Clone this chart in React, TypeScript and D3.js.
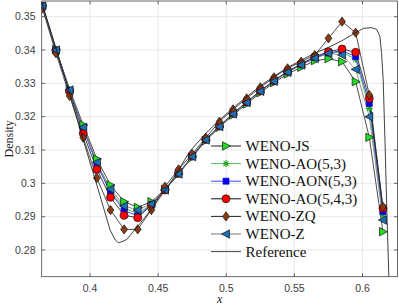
import React from "react";
import * as d3 from "d3";

const xs = [0.365, 0.375, 0.385, 0.395, 0.405, 0.415, 0.425, 0.435, 0.445, 0.455, 0.465, 0.475, 0.485, 0.495, 0.505, 0.515, 0.525, 0.535, 0.545, 0.555, 0.565, 0.575, 0.585, 0.595, 0.605, 0.615];

const wenoJS = [0.3533, 0.3402, 0.3282, 0.3175, 0.3073, 0.2995, 0.2945, 0.2928, 0.2945, 0.2982, 0.3028, 0.3078, 0.3128, 0.3168, 0.3205, 0.3238, 0.3272, 0.3302, 0.3328, 0.3348, 0.3368, 0.3374, 0.3365, 0.3305, 0.3138, 0.2855];
const wenoAO53 = [0.3532, 0.3400, 0.3279, 0.3166, 0.3060, 0.2976, 0.2925, 0.2910, 0.2936, 0.2980, 0.3029, 0.3080, 0.3130, 0.3170, 0.3208, 0.3242, 0.3276, 0.3306, 0.3334, 0.3356, 0.3377, 0.3390, 0.3394, 0.3372, 0.3225, 0.2905];
const wenoAON53 = [0.3532, 0.3400, 0.3279, 0.3163, 0.3056, 0.2972, 0.2918, 0.2903, 0.2935, 0.2980, 0.3029, 0.3081, 0.3131, 0.3171, 0.3209, 0.3243, 0.3277, 0.3307, 0.3335, 0.3357, 0.3378, 0.3391, 0.3398, 0.3380, 0.3240, 0.2915];
const wenoAO543 = [0.3531, 0.3398, 0.3276, 0.3150, 0.3042, 0.2958, 0.2904, 0.2897, 0.2935, 0.2980, 0.3030, 0.3082, 0.3132, 0.3172, 0.3210, 0.3244, 0.3278, 0.3308, 0.3336, 0.3358, 0.3380, 0.3395, 0.3403, 0.3393, 0.3255, 0.2925];
const wenoZQ = [0.3525, 0.3390, 0.3262, 0.3137, 0.3016, 0.2920, 0.2862, 0.2862, 0.2920, 0.2990, 0.3042, 0.3088, 0.3137, 0.3185, 0.3222, 0.3255, 0.3288, 0.3318, 0.3345, 0.3365, 0.3385, 0.3435, 0.3485, 0.3452, 0.3265, 0.2930];
const wenoZ = [0.3532, 0.3400, 0.3280, 0.3168, 0.3063, 0.2983, 0.2932, 0.2920, 0.2938, 0.2980, 0.3028, 0.3080, 0.3130, 0.3170, 0.3208, 0.3242, 0.3276, 0.3306, 0.3333, 0.3355, 0.3375, 0.3390, 0.3385, 0.3342, 0.3200, 0.2890];

const refX = [0.3645, 0.375, 0.385, 0.395, 0.405, 0.4147, 0.4185, 0.4208, 0.4235, 0.427, 0.4367, 0.4465, 0.4587, 0.465, 0.473, 0.485, 0.495, 0.505, 0.515, 0.525, 0.535, 0.545, 0.555, 0.565, 0.575, 0.585, 0.595, 0.6009, 0.6067, 0.6104, 0.6128, 0.614, 0.6152, 0.6167, 0.618, 0.6195];
const refV = [0.3545, 0.3405, 0.3270, 0.3130, 0.2995, 0.2860, 0.2830, 0.2822, 0.2825, 0.2832, 0.2880, 0.2930, 0.3000, 0.3040, 0.3095, 0.3150, 0.3190, 0.3226, 0.3260, 0.3292, 0.3321, 0.3347, 0.3370, 0.3390, 0.3408, 0.3428, 0.3452, 0.3465, 0.3467, 0.3462, 0.3440, 0.3390, 0.3310, 0.3100, 0.2900, 0.2700];

const xTicks = [0.4, 0.45, 0.5, 0.55, 0.6];
const yTicks = [0.28, 0.29, 0.3, 0.31, 0.32, 0.33, 0.34, 0.35];

type Marker = "tri-right" | "star" | "square" | "circle" | "diamond" | "tri-left" | "none";
interface Series { name: string; values: number[] | null; line: string; marker: Marker; fill: string; edge: string; }

const series: Series[] = [
  { name: "WENO-JS", values: wenoJS, line: "#222222", marker: "tri-right", fill: "#22dd22", edge: "#111111" },
  { name: "WENO-AO(5,3)", values: wenoAO53, line: "#55bb55", marker: "star", fill: "#22aa22", edge: "#22aa22" },
  { name: "WENO-AON(5,3)", values: wenoAON53, line: "#4444ff", marker: "square", fill: "#0000ee", edge: "#0000ee" },
  { name: "WENO-AO(5,4,3)", values: wenoAO543, line: "#111111", marker: "circle", fill: "#ff0000", edge: "#111111" },
  { name: "WENO-ZQ", values: wenoZQ, line: "#222222", marker: "diamond", fill: "#8b3a0f", edge: "#111111" },
  { name: "WENO-Z", values: wenoZ, line: "#777777", marker: "tri-left", fill: "#1a6fb5", edge: "#111111" },
  { name: "Reference", values: null, line: "#111111", marker: "none", fill: "none", edge: "none" },
];

const W = 399, H = 306;
const L = 41.7, R = 397.5, T = 1, B = 276.7;

function markerPath(m: Marker): string {
  switch (m) {
    case "tri-right": return "M-3.5,-4.2L4.5,0L-3.5,4.2Z";
    case "tri-left": return "M3.5,-4.2L-4.5,0L3.5,4.2Z";
    case "square": return "M-3,-3L3,-3L3,3L-3,3Z";
    case "diamond": return "M0,-4.6L3.4,0L0,4.6L-3.4,0Z";
    case "star": return "M-3.5,0L3.5,0M0,-3.5L0,3.5M-2.5,-2.5L2.5,2.5M-2.5,2.5L2.5,-2.5";
    default: return "";
  }
}

function MarkerShape({ s, x, y }: { s: Series; x: number; y: number }) {
  if (s.marker === "none") return null;
  if (s.marker === "circle") return <circle cx={x} cy={y} r={4} fill={s.fill} stroke={s.edge} strokeWidth={0.7} />;
  if (s.marker === "star") return <path d={markerPath("star")} transform={`translate(${x},${y})`} stroke={s.fill} strokeWidth={1.1} fill="none" />;
  return <path d={markerPath(s.marker)} transform={`translate(${x},${y})`} fill={s.fill} stroke={s.edge} strokeWidth={0.7} />;
}

export default function App() {
  const x = d3.scaleLinear().domain([0.3645, 0.6257]).range([L, R]);
  const y = d3.scaleLinear().domain([0.2720, 0.3547]).range([B, T]);
  const line = d3.line<[number, number]>().x(d => x(d[0])).y(d => y(d[1]));
  const refPts: [number, number][] = refX.map((v, i) => [v, refV[i]]);
  const legendY0 = 146, legendDy = 17.6;

  return (
    <svg width={W} height={H} style={{ position: "absolute", left: 0, top: 0, background: "#fff" }}>
      <defs>
        <clipPath id="plot"><rect x={L} y={T} width={R - L} height={B - T} /></clipPath>
      </defs>
      <rect x={0} y={0} width={W} height={H} fill="#fff" />
      {/* grid */}
      {xTicks.map(t => <line key={"gx" + t} x1={x(t)} x2={x(t)} y1={T} y2={B} stroke="#e3e3e3" strokeWidth={0.8} />)}
      {yTicks.map(t => <line key={"gy" + t} x1={L} x2={R} y1={y(t)} y2={y(t)} stroke="#e3e3e3" strokeWidth={0.8} />)}
      {/* series */}
      <g clipPath="url(#plot)">
        {series.filter(s => s.values).map(s => {
          const pts: [number, number][] = xs.map((v, i) => [v, (s.values as number[])[i]]);
          return <path key={s.name} d={line(pts) || ""} fill="none" stroke={s.line} strokeWidth={s.marker === "square" || s.marker === "star" ? 1.0 : 0.8} />;
        })}
        {series.filter(s => s.values).map(s => (
          <g key={s.name + "m"}>
            {xs.map((v, i) => <MarkerShape key={i} s={s} x={x(v)} y={y((s.values as number[])[i])} />)}
          </g>
        ))}
        <path d={line(refPts) || ""} fill="none" stroke="#111" strokeWidth={0.8} />
      </g>
      {/* axes box */}
      <rect x={L} y={T} width={R - L} height={B - T} fill="none" stroke="#444" strokeWidth={0.8} />
      {xTicks.map(t => (
        <g key={"tx" + t}>
          <line x1={x(t)} x2={x(t)} y1={B} y2={B - 3.5} stroke="#444" strokeWidth={0.8} />
          <line x1={x(t)} x2={x(t)} y1={T} y2={T + 3.5} stroke="#444" strokeWidth={0.8} />
          <text x={x(t)} y={292} textAnchor="middle" fontFamily="Liberation Sans, Arial, sans-serif" fontSize={10.5} fill="#404040">{String(t)}</text>
        </g>
      ))}
      {yTicks.map(t => (
        <g key={"ty" + t}>
          <line x1={L} x2={L + 3.5} y1={y(t)} y2={y(t)} stroke="#444" strokeWidth={0.8} />
          <line x1={R} x2={R - 3.5} y1={y(t)} y2={y(t)} stroke="#444" strokeWidth={0.8} />
          <text x={35.5} y={y(t) + 3.7} textAnchor="end" fontFamily="Liberation Sans, Arial, sans-serif" fontSize={10.5} fill="#404040">{String(t)}</text>
        </g>
      ))}
      <text transform={`translate(13,${(T + B) / 2}) rotate(-90)`} textAnchor="middle" fontFamily="Liberation Serif, serif" fontSize={12} fill="#222">Density</text>
      <text x={(L + R) / 2} y={303} textAnchor="middle" fontFamily="Liberation Serif, serif" fontStyle="italic" fontSize={12} fill="#222">x</text>
      {/* legend */}
      {series.map((s, i) => {
        const ly = legendY0 + i * legendDy;
        return (
          <g key={"lg" + s.name}>
            <line x1={211} x2={241} y1={ly} y2={ly} stroke={s.line} strokeWidth={s.marker === "none" ? 0.8 : 1.0} />
            <MarkerShape s={s} x={226} y={ly} />
            <text x={245.5} y={ly + 5} fontFamily="Liberation Serif, serif" fontSize={15} fill="#111">{s.name}</text>
          </g>
        );
      })}
    </svg>
  );
}
